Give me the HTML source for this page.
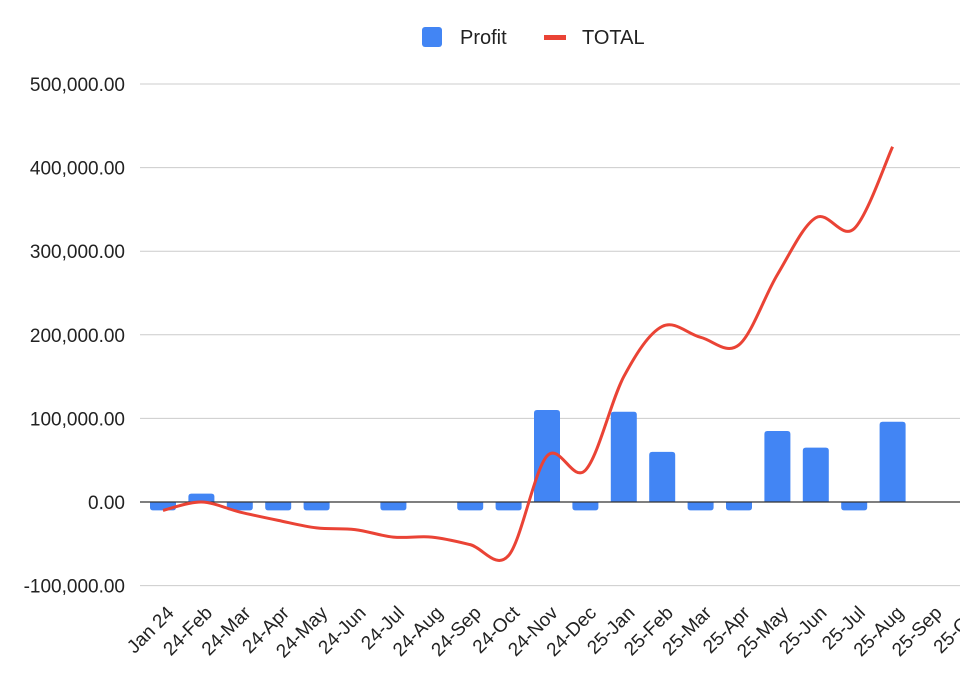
<!DOCTYPE html>
<html><head><meta charset="utf-8"><style>
html,body{margin:0;padding:0;background:#fff;}
svg{display:block;font-family:"Liberation Sans",Arial,sans-serif;}
</style></head><body>
<svg id="chart" width="960" height="693">
<g id="grid"></g>
<g id="yaxis"></g>
<g id="bars"></g>
<g id="zero"></g>
<g id="line"></g>
<g id="xaxis"></g>
<g>
  <g>
    <rect x="422" y="27" width="20" height="20" rx="3" fill="#4285f4"/>
    <text x="460" y="44" font-size="20" fill="#222">Profit</text>
  </g>
  <g>
    <rect x="544" y="35" width="22" height="5" fill="#ea4335"/>
    <text x="582" y="44" font-size="20" fill="#222">TOTAL</text>
  </g>
</g>
</svg>
<script>
const categories=["Jan 24","24-Feb","24-Mar","24-Apr","24-May","24-Jun","24-Jul","24-Aug","24-Sep","24-Oct","24-Nov","24-Dec","25-Jan","25-Feb","25-Mar","25-Apr","25-May","25-Jun","25-Jul","25-Aug","25-Sep","25-Oct"];
const profit=[-10000,10000,-10000,-10000,-10000,0,-10000,0,-10000,-10000,110000,-10000,108000,60000,-10000,-10000,85000,65000,-10000,96000,0,0];
const total=[-10000,0,-12000,-22000,-31000,-33000,-42000,-42000,-51000,-64000,55000,38000,150000,210000,197000,188000,272000,340000,327000,425000];
const yTicks=[-100000,0,100000,200000,300000,400000,500000];
const yTickLabels=["-100,000.00","0.00","100,000.00","200,000.00","300,000.00","400,000.00","500,000.00"];
const NS="http://www.w3.org/2000/svg";
function y(v){return 502-v*(418/500000);}
function x(i){return 163+i*38.4;}
function mk(tag,attrs,parent){const e=document.createElementNS(NS,tag);for(const k in attrs)e.setAttribute(k,attrs[k]);parent.appendChild(e);return e;}
const grid=document.getElementById('grid'),ya=document.getElementById('yaxis');
yTicks.forEach((t,i)=>{
  if(t!==0){const l=mk('line',{x1:140,x2:960,y1:y(t),y2:y(t),stroke:'#cccccc','stroke-width':1},grid);
  
  }
  const tx=mk('text',{x:125,y:y(t)+7,'text-anchor':'end','font-size':19,fill:'#222'},ya);
  tx.textContent=yTickLabels[i];
  
  
});
const bars=document.getElementById('bars');
profit.forEach((v,i)=>{
  if(v===0)return;
  const top=Math.min(y(v),y(0)),h=Math.abs(y(v)-y(0));
  const r=mk('path',{fill:'#4285f4',d:v>0?`M${x(i)-13},${y(0)}V${top+3}q0,-3 3,-3h20q3,0 3,3V${y(0)}Z`:`M${x(i)-13},${y(0)}V${y(0)+h-3}q0,3 3,3h20q3,0 3,-3V${y(0)}Z`},bars);
  
  
});
const z=mk('line',{x1:140,x2:960,y1:y(0),y2:y(0),stroke:'#333','stroke-width':1.3},document.getElementById('zero'));


const pts=total.map((v,i)=>[x(i),y(v)]);
let d=`M${pts[0][0]},${pts[0][1]}`;
for(let i=0;i<pts.length-1;i++){
  const p0=pts[Math.max(0,i-1)],p1=pts[i],p2=pts[i+1],p3=pts[Math.min(pts.length-1,i+2)];
  const c1=[p1[0]+(p2[0]-p0[0])/6,p1[1]+(p2[1]-p0[1])/6],c2=[p2[0]-(p3[0]-p1[0])/6,p2[1]-(p3[1]-p1[1])/6];
  d+=`C${c1[0]},${c1[1]} ${c2[0]},${c2[1]} ${p2[0]},${p2[1]}`;
}
const ln=mk('path',{d:d,fill:'none',stroke:'#ea4335','stroke-width':3,'stroke-linejoin':'round'},document.getElementById('line'));


const xa=document.getElementById('xaxis');
categories.forEach((c,i)=>{
  const ax=x(i)+12,ay=614;
  const t=mk('text',{x:ax,y:ay,'text-anchor':'end','font-size':19,fill:'#222',transform:`rotate(-45 ${ax} ${ay})`},xa);
  t.textContent=c;
  
  
});
</script>
</body></html>
